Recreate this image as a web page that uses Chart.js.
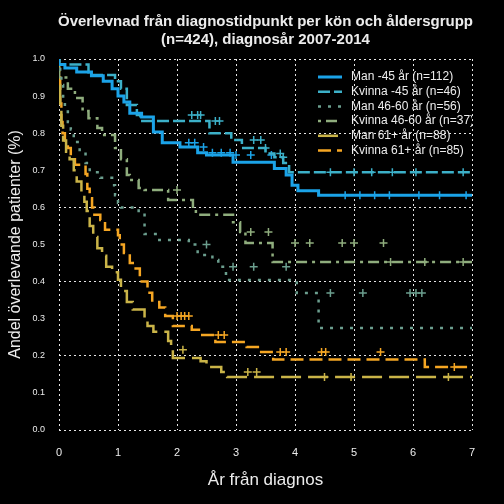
<!DOCTYPE html>
<html lang="sv">
<head>
    <meta charset="UTF-8">
    <title>Överlevnad från diagnostidpunkt</title>
    <script src="https://cdn.jsdelivr.net/npm/chart.js"></script>
    <style>
        html, body { margin: 0; padding: 0; background: #000; }
        #wrap { width: 504px; height: 504px; }
    </style>
</head>
<body>
<div id="wrap"><canvas id="kmChart" width="504" height="504"></canvas></div>
<script>
    // Titel och etiketter
    const titelRader = ['Överlevnad från diagnostidpunkt per kön och åldersgrupp', '(n=424), diagnosår 2007-2014'];
    const gruppNamn = ['Man -45 år (n=112)', 'Kvinna -45 år (n=46)', 'Man 46-60 år (n=56)',
                       'Kvinna 46-60 år (n=37)', 'Man 61+ år (n=88)', 'Kvinna 61+ år (n=85)'];

    // Man -45
    const manUnder45Tid   = [0, 0.1, 0.3, 0.55, 0.75, 0.9, 1.0, 1.1, 1.2, 1.4, 1.6, 1.75, 2.05, 2.35, 2.5, 2.95, 3.65, 3.85, 3.95, 4.05, 4.4, 4.5, 7];
    const manUnder45Andel = [1.0, 0.985, 0.976, 0.965, 0.955, 0.94, 0.92, 0.9, 0.884, 0.854, 0.844, 0.803, 0.774, 0.763, 0.747, 0.741, 0.722, 0.705, 0.687, 0.66, 0.645, 0.633, 0.633];
    const manUnder45Cens  = [2.2, 2.3, 2.45, 2.6, 2.75, 2.9, 3.0, 3.25, 3.6, 4.85, 5.1, 5.35, 5.6, 6.1, 6.45, 6.9];

    // Kvinna -45
    const kvUnder45Tid   = [0, 0.5, 0.95, 1.05, 1.15, 1.32, 1.38, 2.55, 2.92, 3.1, 3.5, 3.65, 3.8, 3.9, 4.2, 7];
    const kvUnder45Andel = [1.0, 0.985, 0.957, 0.94, 0.92, 0.876, 0.849, 0.833, 0.80, 0.782, 0.76, 0.745, 0.735, 0.72, 0.695, 0.695];
    const kvUnder45Cens  = [2.25, 2.35, 2.4, 2.65, 2.72, 3.3, 3.42, 3.5, 3.75, 3.8, 4.6, 5.0, 5.3, 5.65, 6.05, 6.85];

    // Man 46-60
    const man4660Tid   = [0, 0.02, 0.04, 0.07, 0.1, 0.15, 0.2, 0.25, 0.35, 0.45, 0.52, 0.7, 0.9, 0.95, 1.0, 1.05, 1.35, 1.45, 1.7, 2.2, 2.35, 2.6, 2.7, 2.83, 4.03, 4.4, 6.25, 7];
    const man4660Andel = [1.0, 0.98, 0.956, 0.93, 0.895, 0.87, 0.83, 0.81, 0.776, 0.75, 0.72, 0.695, 0.68, 0.66, 0.633, 0.612, 0.6, 0.585, 0.528, 0.512, 0.5, 0.472, 0.458, 0.44, 0.404, 0.369, 0.275, 0.275];
    const man4660Cens  = [2.5, 2.95, 3.3, 3.85, 4.6, 5.15, 5.95, 6.05, 6.15];

    // Kvinna 46-60
    const kv4660Tid   = [0, 0.15, 0.27, 0.4, 0.5, 0.65, 0.73, 0.95, 1.05, 1.15, 1.2, 1.35, 1.45, 1.85, 2.27, 2.32, 2.95, 3.07, 3.16, 3.62, 5.52, 7];
    const kv4660Andel = [1.0, 0.95, 0.92, 0.895, 0.86, 0.84, 0.814, 0.795, 0.76, 0.73, 0.687, 0.674, 0.652, 0.647, 0.62, 0.593, 0.58, 0.56, 0.534, 0.504, 0.453, 0.453];
    const kv4660Cens  = [2.0, 3.25, 3.55, 4.0, 4.25, 4.8, 5.0, 5.5, 5.62, 6.2, 6.85];

    // Man 61+
    const man61Tid   = [0, 0.02, 0.04, 0.07, 0.12, 0.18, 0.25, 0.3, 0.38, 0.43, 0.47, 0.52, 0.58, 0.65, 0.73, 0.8, 0.9, 1.0, 1.05, 1.15, 1.25, 1.45, 1.5, 1.6, 1.85, 1.9, 1.93, 2.4, 2.5, 2.75, 2.85, 4.3, 7];
    const man61Andel = [1.0, 0.93, 0.87, 0.82, 0.78, 0.75, 0.73, 0.7, 0.67, 0.64, 0.615, 0.59, 0.55, 0.52, 0.49, 0.47, 0.44, 0.425, 0.405, 0.375, 0.345, 0.325, 0.3, 0.28, 0.265, 0.24, 0.216, 0.194, 0.185, 0.17, 0.156, 0.143, 0.143];
    const man61Cens  = [2.1, 3.2, 3.35, 4.5, 4.95, 6.6];

    // Kvinna 61+
    const kv61Tid   = [0, 0.02, 0.04, 0.06, 0.1, 0.15, 0.2, 0.27, 0.45, 0.48, 0.52, 0.56, 0.6, 0.7, 0.78, 1.0, 1.03, 1.1, 1.2, 1.25, 1.37, 1.5, 1.58, 1.7, 1.8, 1.93, 2.25, 2.4, 2.65, 3.18, 3.4, 3.63, 6.2, 6.25, 7];
    const kv61Andel = [1.0, 0.95, 0.88, 0.83, 0.8, 0.78, 0.76, 0.73, 0.715, 0.69, 0.65, 0.625, 0.6, 0.58, 0.566, 0.54, 0.525, 0.5, 0.477, 0.45, 0.435, 0.40, 0.37, 0.345, 0.33, 0.307, 0.28, 0.27, 0.256, 0.237, 0.224, 0.21, 0.19, 0.17, 0.17];
    const kv61Cens  = [2.0, 2.07, 2.13, 2.2, 2.7, 2.8, 3.75, 3.85, 4.45, 4.52, 5.45, 6.7];

    const xTicks = [0, 1, 2, 3, 4, 5, 6, 7];

    const grupper = [
        { tid: manUnder45Tid, andel: manUnder45Andel, cens: manUnder45Cens, color: '#1ba3e8', width: 3, dash: [] },
        { tid: kvUnder45Tid,  andel: kvUnder45Andel,  cens: kvUnder45Cens,  color: '#3cb0c8', width: 2.5, dash: [12, 4] },
        { tid: man4660Tid,    andel: man4660Andel,    cens: man4660Cens,    color: '#6b9e8e', width: 2.5, dash: [3, 7] },
        { tid: kv4660Tid,     andel: kv4660Andel,     cens: kv4660Cens,     color: '#8fad7d', width: 2.5, dash: [3, 5, 11, 5] },
        { tid: man61Tid,      andel: man61Andel,      cens: man61Cens,      color: '#cab448', width: 2.5, dash: [20, 7] },
        { tid: kv61Tid,       andel: kv61Andel,       cens: kv61Cens,       color: '#f5a623', width: 2.5, dash: [13, 6] }
    ];

    // värdet på trappkurvan vid tid t
    function andelVid(tid, andel, t) {
        let v = andel[0];
        for (let i = 0; i < tid.length; i++) {
            if (tid[i] <= t) v = andel[i];
        }
        return v;
    }

    const datasets = [];
    grupper.forEach((g, i) => {
        datasets.push({
            type: 'line',
            label: gruppNamn[i],
            data: g.tid.map((t, j) => ({ x: t, y: g.andel[j] })),
            borderColor: g.color,
            borderWidth: g.width,
            borderDash: g.dash,
            stepped: 'after',
            pointRadius: 0,
            fill: false,
            isCurve: true
        });
    });
    grupper.forEach((g, i) => {
        datasets.push({
            type: 'scatter',
            label: gruppNamn[i] + ' censur',
            data: g.cens.map(t => ({ x: t, y: andelVid(g.tid, g.andel, t) })),
            borderColor: g.color,
            backgroundColor: g.color,
            pointStyle: 'cross',
            pointRadius: 4,
            borderWidth: 1.5
        });
    });

    const textFarg = '#ececec';
    const fontFam = '"Liberation Sans", Arial, sans-serif';

    // titel centrerad över diagramytan
    const titelPlugin = {
        id: 'titel',
        afterDraw(chart) {
            const { ctx, chartArea } = chart;
            ctx.save();
            ctx.fillStyle = textFarg;
            ctx.font = 'bold 15px ' + fontFam;
            ctx.textAlign = 'center';
            ctx.textBaseline = 'middle';
            const cx = (chartArea.left + chartArea.right) / 2;
            ctx.fillText(titelRader[0], cx, 22);
            ctx.fillText(titelRader[1], cx, 40);
            ctx.restore();
        }
    };

    // förklaring inne i diagrammet, klippt mot ytan
    const legendPlugin = {
        id: 'egenLegend',
        afterDatasetsDraw(chart) {
            const { ctx, chartArea } = chart;
            ctx.save();
            ctx.beginPath();
            ctx.rect(chartArea.left, chartArea.top, chartArea.right - chartArea.left, chartArea.bottom - chartArea.top);
            ctx.clip();
            const x0 = chartArea.right - 154;
            let y = chartArea.top + 18;
            chart.data.datasets.filter(d => d.isCurve).forEach(d => {
                ctx.strokeStyle = d.borderColor;
                ctx.lineWidth = d.borderWidth;
                ctx.setLineDash(d.borderDash);
                ctx.beginPath();
                ctx.moveTo(x0, y);
                ctx.lineTo(x0 + 24, y);
                ctx.stroke();
                ctx.setLineDash([]);
                ctx.fillStyle = textFarg;
                ctx.font = '12px ' + fontFam;
                ctx.textBaseline = 'middle';
                ctx.fillText(d.label, x0 + 33, y);
                y += 14.7;
            });
            ctx.restore();
        }
    };

    new Chart(document.getElementById('kmChart'), {
        data: { datasets: datasets },
        options: {
            responsive: false,
            animation: false,
            layout: { padding: { top: 59, right: 32, bottom: 0, left: 0 } },
            plugins: {
                legend: { display: false },
                tooltip: { enabled: false }
            },
            scales: {
                x: {
                    type: 'linear',
                    min: 0,
                    max: 7,
                    afterBuildTicks: scale => { scale.ticks = xTicks.map(v => ({ value: v })); },
                    afterFit: scale => { scale.height = 74; },
                    grid: { color: 'rgba(255,255,255,0.9)', lineWidth: 1, drawTicks: false },
                    border: { display: false, dash: [2, 3] },
                    ticks: { color: textFarg, padding: 16, font: { size: 11, family: fontFam } },
                    title: {
                        display: true,
                        text: 'År från diagnos',
                        color: textFarg,
                        font: { size: 17, family: fontFam },
                        padding: { top: 0, bottom: 13 }
                    }
                },
                y: {
                    min: 0,
                    max: 1,
                    afterFit: scale => { scale.width = 59; },
                    grid: {
                        color: c => (Math.round(c.tick.value * 10) % 2 === 0 ? 'rgba(255,255,255,0.9)' : 'transparent'),
                        lineWidth: 1,
                        drawTicks: false
                    },
                    border: { display: false, dash: [2, 3] },
                    ticks: {
                        stepSize: 0.1,
                        color: textFarg,
                        padding: 14,
                        font: { size: 9, family: fontFam },
                        callback: v => v.toFixed(1)
                    },
                    title: {
                        display: true,
                        text: 'Andel överlevande patienter (%)',
                        color: textFarg,
                        font: { size: 16, family: fontFam },
                        padding: { top: 6, bottom: 0 }
                    }
                }
            }
        },
        plugins: [titelPlugin, legendPlugin]
    });
</script>
</body>
</html>
